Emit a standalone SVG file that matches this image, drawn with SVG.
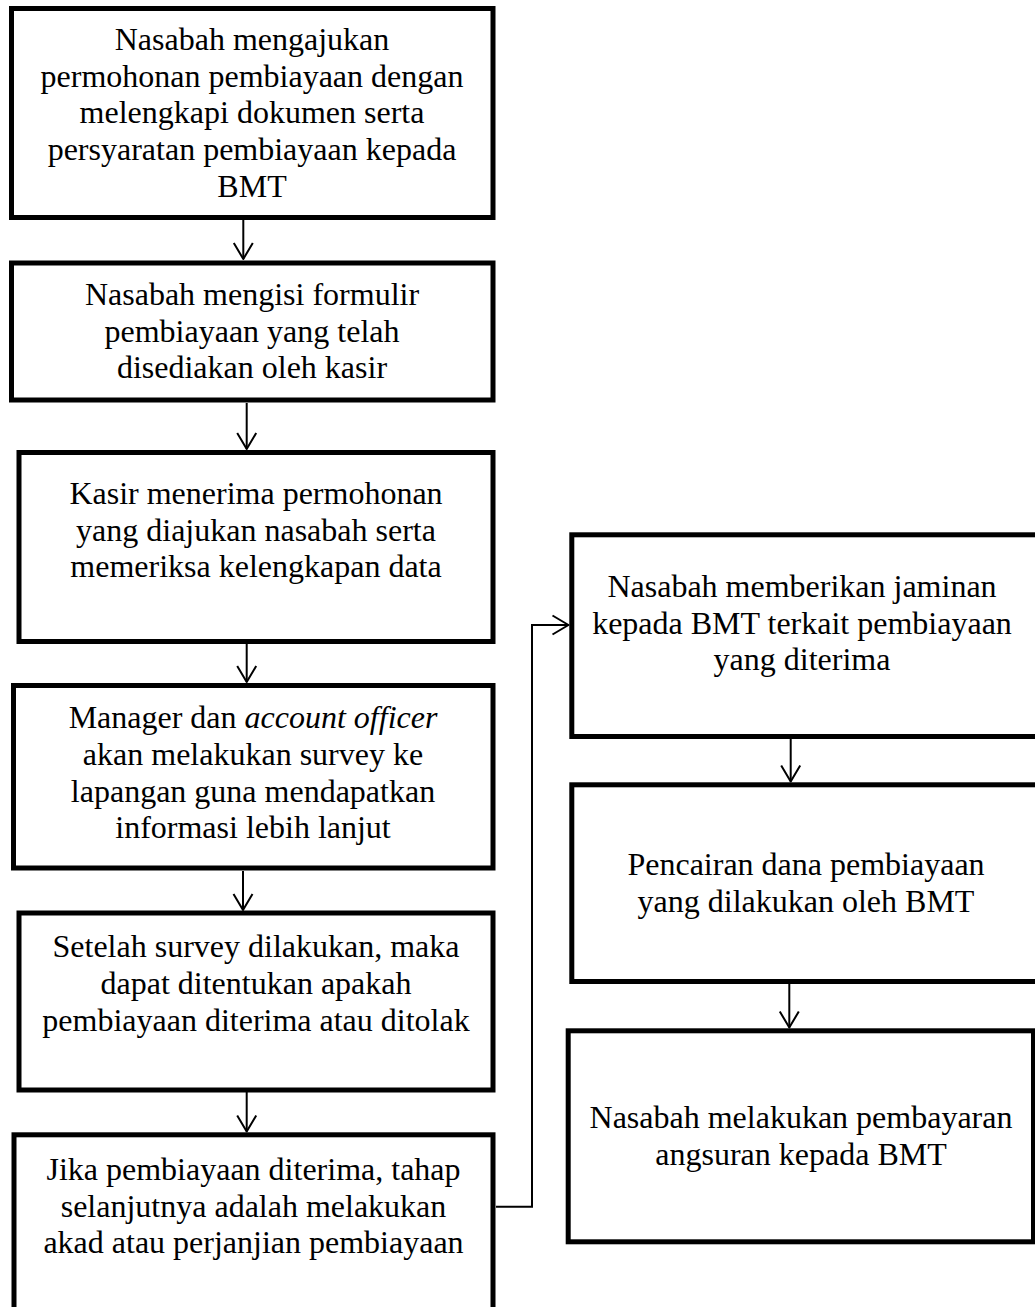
<svg xmlns="http://www.w3.org/2000/svg" width="1035" height="1307" viewBox="0 0 1035 1307">
<style>
.box{fill:#fff;stroke:#000;stroke-width:5}
.t{font-family:"Liberation Serif","Times New Roman",serif;font-size:32px;fill:#000;text-anchor:middle}
.c{fill:none;stroke:#000;stroke-width:2}
</style>
<defs>
<marker id="arr" markerUnits="userSpaceOnUse" markerWidth="24" markerHeight="26" viewBox="-20 -13 24 26" refX="0" refY="0" orient="auto">
<path d="M-16,-9.5 L0,0 L-16,9.5" fill="none" stroke="#000" stroke-width="2" stroke-linejoin="round"/>
</marker>
</defs>
<rect width="1035" height="1307" fill="#fff"/>
<g id="connectors">
<line class="c" x1="243.3" y1="220" x2="243.3" y2="259" marker-end="url(#arr)"/>
<line class="c" x1="246.7" y1="403" x2="246.7" y2="449" marker-end="url(#arr)"/>
<line class="c" x1="246.7" y1="644" x2="246.7" y2="682" marker-end="url(#arr)"/>
<line class="c" x1="243" y1="871" x2="243" y2="910" marker-end="url(#arr)"/>
<line class="c" x1="246.7" y1="1092" x2="246.7" y2="1131.5" marker-end="url(#arr)"/>
<polyline class="c" points="496,1206.7 532,1206.7 532,625 568.5,625" marker-end="url(#arr)"/>
<line class="c" x1="790.7" y1="739" x2="790.7" y2="781.5" marker-end="url(#arr)"/>
<line class="c" x1="789.3" y1="984" x2="789.3" y2="1027.5" marker-end="url(#arr)"/>
</g>
<g id="n1">
<rect class="box" x="11.5" y="8.5" width="481.5" height="209"/>
<text class="t" x="252" y="50">Nasabah mengajukan</text>
<text class="t" x="252" y="86.7">permohonan pembiayaan dengan</text>
<text class="t" x="252" y="123.3">melengkapi dokumen serta</text>
<text class="t" x="252" y="160">persyaratan pembiayaan kepada</text>
<text class="t" x="252" y="196.7">BMT</text>
</g>
<g id="n2">
<rect class="box" x="11.5" y="263" width="481.5" height="137"/>
<text class="t" x="252" y="305">Nasabah mengisi formulir</text>
<text class="t" x="252" y="341.7">pembiayaan yang telah</text>
<text class="t" x="252" y="378.3">disediakan oleh kasir</text>
</g>
<g id="n3">
<rect class="box" x="19" y="452.5" width="474" height="189"/>
<text class="t" x="256" y="504">Kasir menerima permohonan</text>
<text class="t" x="256" y="540.7">yang diajukan nasabah serta</text>
<text class="t" x="256" y="577.3">memeriksa kelengkapan data</text>
</g>
<g id="n4">
<rect class="box" x="13.5" y="685.5" width="479.5" height="182.5"/>
<text class="t" x="253" y="728.3">Manager dan <tspan font-style="italic">account officer</tspan></text>
<text class="t" x="253" y="765">akan melakukan survey ke</text>
<text class="t" x="253" y="801.7">lapangan guna mendapatkan</text>
<text class="t" x="253" y="838.3">informasi lebih lanjut</text>
</g>
<g id="n5">
<rect class="box" x="19" y="913" width="474" height="177"/>
<text class="t" x="256" y="957.3">Setelah survey dilakukan, maka</text>
<text class="t" x="256" y="994">dapat ditentukan apakah</text>
<text class="t" x="256" y="1030.7">pembiayaan diterima atau ditolak</text>
</g>
<g id="n6">
<rect class="box" x="14" y="1134.8" width="479" height="200"/>
<text class="t" x="253.5" y="1180">Jika pembiayaan diterima, tahap</text>
<text class="t" x="253.5" y="1216.7">selanjutnya adalah melakukan</text>
<text class="t" x="253.5" y="1253.3">akad atau perjanjian pembiayaan</text>
</g>
<g id="n7">
<rect class="box" x="571.8" y="534.8" width="467" height="201.7"/>
<text class="t" x="802" y="597">Nasabah memberikan jaminan</text>
<text class="t" x="802" y="633.7">kepada BMT terkait pembiayaan</text>
<text class="t" x="802" y="670.4">yang diterima</text>
</g>
<g id="n8">
<rect class="box" x="571.8" y="784.8" width="467" height="196.7"/>
<text class="t" x="806" y="875">Pencairan dana pembiayaan</text>
<text class="t" x="806" y="911.7">yang dilakukan oleh BMT</text>
</g>
<g id="n9">
<rect class="box" x="568.2" y="1030.8" width="465.3" height="211"/>
<text class="t" x="801" y="1128.3">Nasabah melakukan pembayaran</text>
<text class="t" x="801" y="1165">angsuran kepada BMT</text>
</g>
</svg>
